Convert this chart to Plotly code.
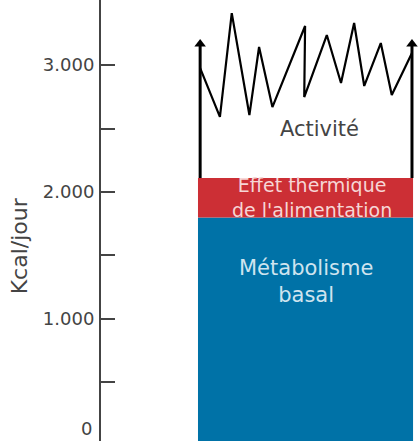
import plotly.graph_objects as go

# ---- data ----
segment_names = ["Métabolisme basal", "Effet thermique de l'alimentation"]
segment_values = [1800, 310]          # kcal/jour, stacked
segment_colors = ["#0072a7", "#cc2f35"]

# activity zig-zag (x as fraction of bar width, y in kcal/jour)
activity_x = [0.01, 0.102, 0.157, 0.239, 0.284, 0.346, 0.498, 0.494, 0.599,
              0.665, 0.726, 0.773, 0.850, 0.901, 0.995]
activity_y = [2976, 2591, 3409, 2606, 3142, 2669, 3307, 2748, 3236,
              2858, 3331, 2835, 3173, 2764, 3094]
arrow_x = [0.01, 0.995]
arrow_top = 3165

tick_vals = [0, 500, 1000, 1500, 2000, 2500, 3000]
tick_text = ["0", "", "1.000", "", "2.000", "", "3.000"]

FONT = "DejaVu Sans"
fig = go.Figure()

base = 0
for name, val, col in zip(segment_names, segment_values, segment_colors):
    fig.add_trace(go.Bar(x=[0.5], y=[val], base=[base], width=[1.0],
                         marker=dict(color=col, line=dict(width=0)),
                         name=name, showlegend=False, hoverinfo="skip"))
    base += val
top_bars = base

# arrows
ax_lines, ay_lines = [], []
for xv in arrow_x:
    ax_lines += [xv, xv, None]
    ay_lines += [top_bars, arrow_top, None]
fig.add_trace(go.Scatter(x=ax_lines, y=ay_lines, mode="lines",
                         line=dict(color="black", width=3), showlegend=False,
                         hoverinfo="skip"))
fig.add_trace(go.Scatter(x=arrow_x, y=[arrow_top] * len(arrow_x), mode="markers",
                         marker=dict(symbol="triangle-up", size=10, color="black"),
                         showlegend=False, hoverinfo="skip"))
fig.add_trace(go.Scatter(x=activity_x, y=activity_y, mode="lines",
                         line=dict(color="black", width=2.2), showlegend=False,
                         hoverinfo="skip"))

ann = []
ann.append(dict(x=0.563, y=2496, xref="x", yref="y", text="Activité", showarrow=False,
                font=dict(family=FONT, size=21, color="#444444")))
ann.append(dict(x=0.5, y=1299, xref="x", yref="y", text="Métabolisme<br>basal",
                showarrow=False,
                font=dict(family=FONT, size=21, color="#cfe4ef")))
ann.append(dict(x=0.53, y=1956, xref="x", yref="y",
                text="Effet thermique<br>de l'alimentation", showarrow=False,
                font=dict(family=FONT, size=19, color="#f6d6d6")))
ann.append(dict(x=-0.30, y=1575, xref="paper", yref="y", text="Kcal/jour", showarrow=False,
                textangle=-90, font=dict(family=FONT, size=22, color="#444444")))
ann.append(dict(x=-0.022, y=0, xref="paper", yref="paper", text="0", showarrow=False,
                xanchor="right", yanchor="bottom",
                font=dict(family=FONT, size=18, color="#444444")))
fig.update_layout(annotations=ann)

fig.update_layout(
    width=418, height=441,
    margin=dict(l=101, r=0, t=0, b=0, pad=0),
    plot_bgcolor="white", paper_bgcolor="white",
    barmode="overlay",
    hovermode=False,
    xaxis=dict(range=[-0.451, 1.023], visible=False, fixedrange=True),
    yaxis=dict(range=[39, 3512], showgrid=False, zeroline=False,
               showline=True, linecolor="#444444", linewidth=2,
               ticks="inside", ticklen=14, tickwidth=2, tickcolor="#444444",
               tickvals=tick_vals, ticktext=tick_text,
               ticklabelstandoff=1, fixedrange=True,
               tickfont=dict(family=FONT, size=18, color="#444444")),
)

fig.write_html("out.html",
               config={"displayModeBar": False},
               post_script="document.body.style.margin='0';"
                           "document.body.style.overflow='hidden';")
